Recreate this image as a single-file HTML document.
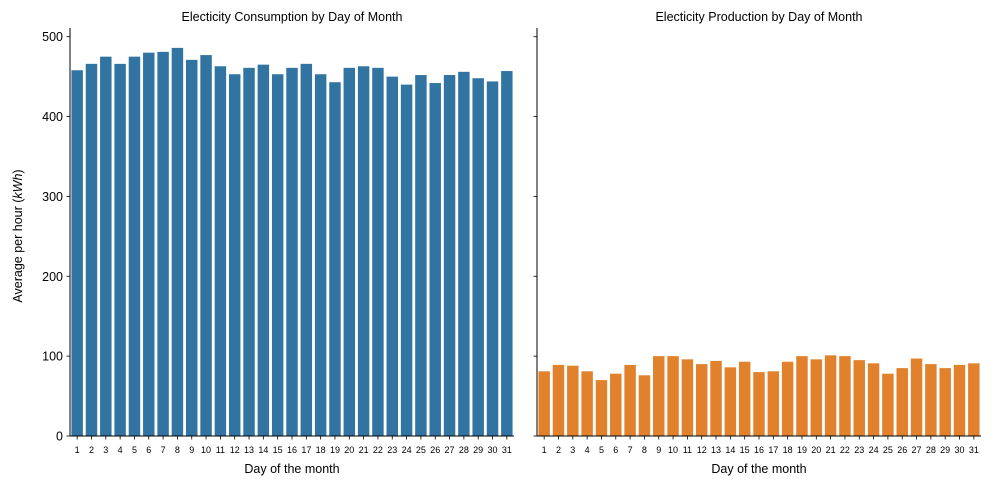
<!DOCTYPE html>
<html><head><meta charset="utf-8"><style>
body{margin:0;background:#fff;}
svg{font-family:"Liberation Sans","DejaVu Sans",sans-serif;}
</style></head><body>
<svg id="chart" width="992" height="485"></svg>
<script>
const days=[1,2,3,4,5,6,7,8,9,10,11,12,13,14,15,16,17,18,19,20,21,22,23,24,25,26,27,28,29,30,31];
const consumption=[458,466,475,466,475,480,481,486,471,477,463,453,461,465,453,461,466,453,443,461,463,461,450,440,452,442,452,456,448,444,457];
const production=[81,89,88,81,70,78,89,76,100,100,96,90,94,86,93,80,81,93,100,96,101,100,95,91,78,85,97,90,85,89,91];
const yTicks=[0,100,200,300,400,500];
const NS="http://www.w3.org/2000/svg";
const svg=document.getElementById('chart');
function mk(tag,attrs,parent){const e=document.createElementNS(NS,tag);for(const k in attrs)e.setAttribute(k,attrs[k]);(parent||svg).appendChild(e);return e;}
const y0=436,yScale=(436-36.7)/500;
function yPos(v){return y0-v*yScale;}
function panel(x0,x1,vals,color,title,showLabels,key){
  const g=mk('g',{});
  
  
  const band=(x1-x0)/days.length;
  vals.forEach((v,i)=>{
    const r=mk('rect',{x:x0+band*i+band*0.1,y:yPos(v),width:band*0.8,height:y0-yPos(v),fill:color},g);
    
    
    const t=mk('text',{x:x0+band*(i+0.5),y:y0+17,'font-size':9,'text-anchor':'middle',fill:'#000'},g);
    t.textContent=days[i];
    
    
    mk('line',{x1:x0+band*(i+0.5),x2:x0+band*(i+0.5),y1:y0,y2:y0+3.5,stroke:'#000','stroke-width':0.8},g);
  });
  yTicks.forEach(v=>{
    mk('line',{x1:x0-3.5,x2:x0,y1:yPos(v),y2:yPos(v),stroke:'#000','stroke-width':0.8},g);
    if(showLabels){const t=mk('text',{x:x0-7,y:yPos(v)+4.5,'font-size':12.5,'text-anchor':'end'},g);t.textContent=v;
      
      }
  });
  mk('line',{x1:x0,x2:x0,y1:28,y2:y0,stroke:'#000','stroke-width':1},g);
  mk('line',{x1:x0,x2:x1,y1:y0,y2:y0,stroke:'#000','stroke-width':1},g);
  const tt=mk('text',{x:(x0+x1)/2,y:21,'font-size':12.5,'text-anchor':'middle'},g);tt.textContent=title;
  
  
  const xl=mk('text',{x:(x0+x1)/2,y:473,'font-size':12.5,'text-anchor':'middle'},g);xl.textContent='Day of the month';
  
  
}
panel(70,514,consumption,'#3274a1','Electicity Consumption by Day of Month',true,'consumption');
panel(537,981,production,'#e1812c','Electicity Production by Day of Month',false,'production');
const yl=mk('text',{x:0,y:0,'font-size':12.5,'text-anchor':'middle',transform:'translate(22,236) rotate(-90)'});
yl.innerHTML='Average per hour (<tspan font-style="italic">kWh</tspan>)';


</script>
</body></html>
